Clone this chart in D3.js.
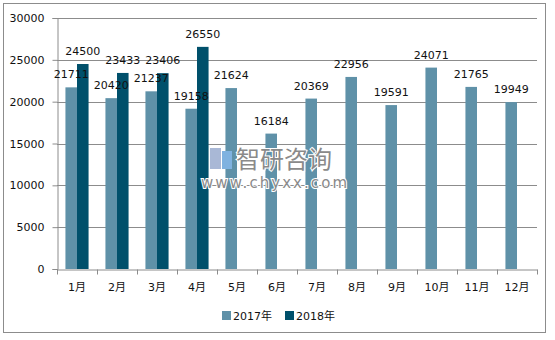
<!DOCTYPE html>
<html>
<head>
<meta charset="utf-8">
<script src="https://cdn.jsdelivr.net/npm/d3@7"></script>
<style>
  body { margin: 0; background: #fff; }
  text { font-family: "DejaVu Sans", Verdana, sans-serif; }
</style>
</head>
<body>
<svg id="chart"></svg>
<script>
var months = ["1月", "2月", "3月", "4月", "5月", "6月", "7月", "8月", "9月", "10月", "11月", "12月"];
var seriesNames = ["2017年", "2018年"];
var values2017 = [21711, 20420, 21237, 19158, 21624, 16184, 20369, 22956, 19591, 24071, 21765, 19949];
var values2018 = [24500, 23433, 23406, 26550, null, null, null, null, null, null, null, null];
var yTicks = [0, 5000, 10000, 15000, 20000, 25000, 30000];
var colors = ["#5f91a8", "#00506b"];

var width = 555, height = 340;
var margin = { left: 57, right: 18, top: 18, bottom: 71 };

var svg = d3.select("#chart").attr("width", width).attr("height", height);

// outer frame
svg.append("rect")
  .attr("x", 3.5).attr("y", 3.5)
  .attr("width", 542).attr("height", 329)
  .attr("fill", "none").attr("stroke", "#8c8c8c");

var x = d3.scaleBand().domain(months).range([margin.left, width - margin.right]);
var y = d3.scaleLinear().domain([0, 30000]).range([height - margin.bottom, margin.top]);

var inner = d3.scaleBand().domain(seriesNames).range([0, x.bandwidth()]).paddingInner(0).paddingOuter(0.73);

// gridlines
svg.append("g").selectAll("line")
  .data(yTicks.slice(1))
  .enter().append("line")
  .attr("x1", margin.left).attr("x2", width - margin.right)
  .attr("y1", function (d) { return Math.round(y(d)) + 0.5; })
  .attr("y2", function (d) { return Math.round(y(d)) + 0.5; })
  .attr("stroke", "#8c8c8c");

var flat = [];
months.forEach(function (m, i) {
  [values2017[i], values2018[i]].forEach(function (v, k) {
    if (v != null) flat.push({ month: m, name: seriesNames[k], value: v, k: k });
  });
});

function cx(d) { return x(d.month) + inner(d.name); }

svg.append("g").selectAll("rect")
  .data(flat)
  .enter().append("rect")
  .attr("x", cx)
  .attr("width", inner.bandwidth())
  .attr("y", function (d) { return y(d.value); })
  .attr("height", function (d) { return y(0) - y(d.value); })
  .attr("fill", function (d) { return colors[d.k]; });

// watermark (sits over the bars)
var wm = svg.append("g");
wm.append("rect").attr("x", 210).attr("y", 148).attr("width", 11).attr("height", 21).attr("fill", "#a9b8d6");
wm.append("rect").attr("x", 222).attr("y", 151).attr("width", 10).attr("height", 18).attr("fill", "#7fb2e0");
wm.append("text").attr("x", 236).attr("y", 168).attr("font-size", 24).attr("fill", "#8a8a8a")
  .attr("stroke", "#fff").attr("stroke-width", 2).attr("paint-order", "stroke")
  .style("font-family", "'Noto Sans CJK SC', sans-serif").text("智研咨询");
wm.append("text").attr("x", 201).attr("y", 188).attr("font-size", 15).attr("fill", "#8a8a8a")
  .attr("stroke", "#fff").attr("stroke-width", 2).attr("paint-order", "stroke")
  .attr("textLength", 146).text("www.chyxx.com");

// y axis
var yAxis = svg.append("g")
  .attr("transform", "translate(" + (margin.left + 0.5) + ",0)")
  .call(d3.axisLeft(y).tickValues(yTicks).tickFormat(d3.format("d")).tickSize(5).tickPadding(8));
yAxis.select(".domain").attr("stroke", "#8c8c8c");
yAxis.selectAll(".tick line").attr("stroke", "#8c8c8c");
yAxis.selectAll(".tick text").attr("font-size", 11).attr("fill", "#111")
  .style("font-family", "'DejaVu Sans', Verdana, sans-serif");

// x axis
var xAxis = svg.append("g")
  .attr("transform", "translate(0," + (Math.round(y(0)) + 0.5) + ")")
  .call(d3.axisBottom(x).tickSize(0).tickPadding(14));
xAxis.select(".domain").attr("stroke", "#8c8c8c");
xAxis.selectAll(".tick text").attr("font-size", 11).attr("fill", "#111")
  .style("font-family", "'DejaVu Sans', 'Noto Sans CJK SC', sans-serif");
xAxis.append("g").selectAll("line")
  .data(d3.range(months.length + 1))
  .enter().append("line")
  .attr("x1", function (i) { return Math.round(margin.left + i * x.step()) + 0.5; })
  .attr("x2", function (i) { return Math.round(margin.left + i * x.step()) + 0.5; })
  .attr("y1", 0).attr("y2", 5)
  .attr("stroke", "#8c8c8c");

// value labels on top of everything
svg.append("g").selectAll("text")
  .data(flat)
  .enter().append("text")
  .attr("x", function (d) { return cx(d) + inner.bandwidth() / 2; })
  .attr("y", function (d) { return y(d.value) - 9; })
  .attr("text-anchor", "middle")
  .attr("font-size", 11)
  .attr("fill", "#111")
  .text(function (d) { return d.value; });

// legend
var legend = svg.append("g").selectAll("g")
  .data(seriesNames)
  .enter().append("g")
  .attr("transform", function (d, i) { return "translate(" + (222 + i * 63) + ",311)"; });
legend.append("rect").attr("width", 9).attr("height", 9)
  .attr("fill", function (d, i) { return colors[i]; });
legend.append("text").attr("x", 11).attr("y", 9).attr("font-size", 11).attr("fill", "#111")
  .style("font-family", "'DejaVu Sans', 'Noto Sans CJK SC', sans-serif")
  .text(function (d) { return d; });
</script>
</body>
</html>
